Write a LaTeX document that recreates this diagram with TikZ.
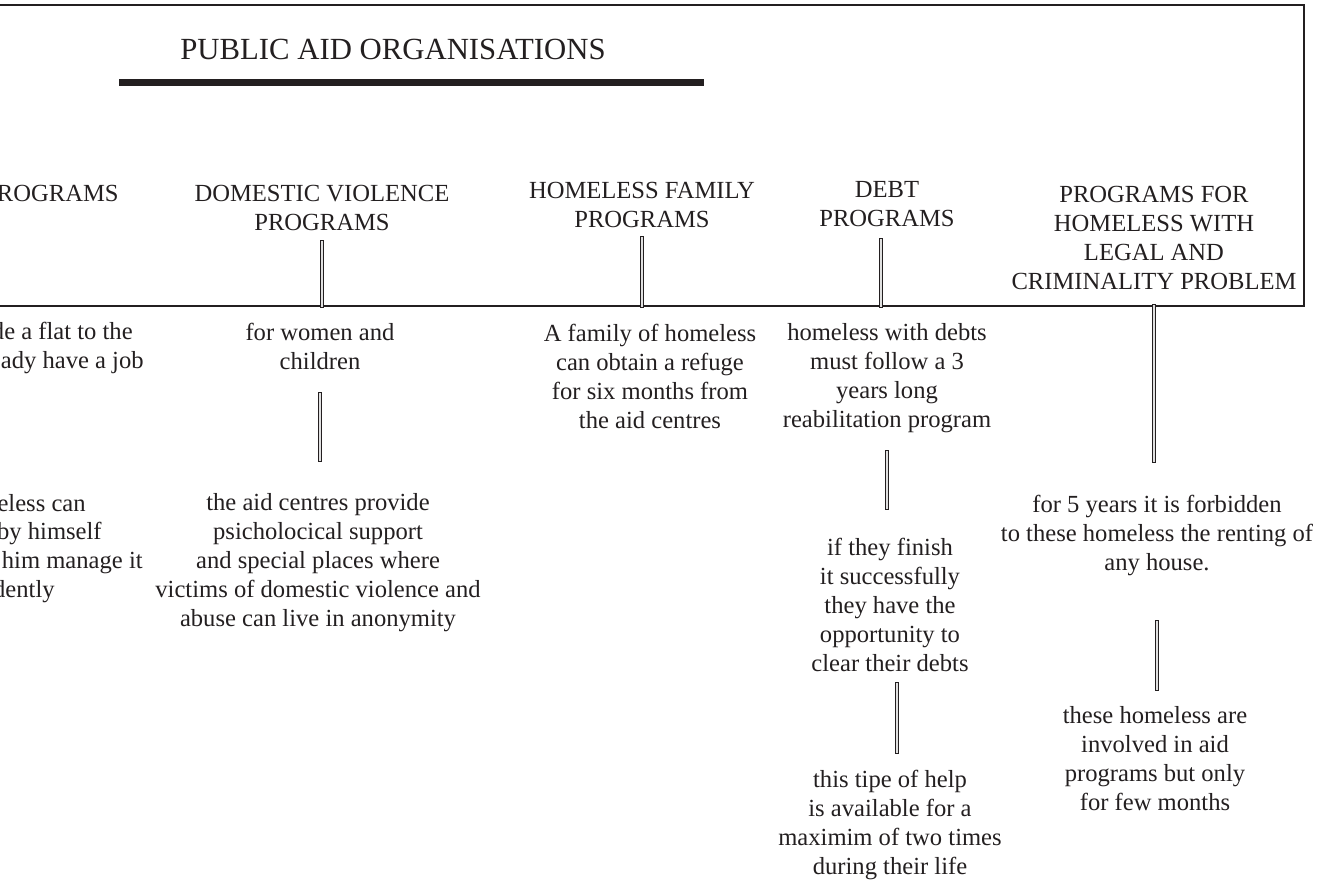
\documentclass[tikz,border=0pt]{standalone}
\usepackage{fontspec}
\setmainfont{Liberation Serif}
\usepackage{tikz}
\usetikzlibrary{positioning,calc}

\definecolor{ink}{RGB}{35,31,32}

\begin{document}
\begin{tikzpicture}[x=0.02cm, y=-0.02cm,
    every node/.style={font=\fontsize{14}{16.5}\selectfont, text=ink, align=center, inner sep=0pt},
    title/.style={font=\fontsize{17.5}{20}\selectfont},
    cut/.style={anchor=base east},
    bar/.style={draw=ink, line width=0.55pt, double=black!12, double distance=1.2pt, line cap=rect}]
  \useasboundingbox (0,0) rectangle (1318,881);
  % Frame and title
  \draw[ink, line width=0.85pt] (-20,5) rectangle (1304,306);
  \coordinate (base) at (0,306);
  \node[title, anchor=base] (title) at (393,60) {PUBLIC AID ORGANISATIONS};
  \draw[ink, line width=4pt] (119,82.5) -- (704,82.5);
  % Program headings
  \node[cut] (lefthead) at (119,202) {ROGRAMS};
  \node[anchor=north] (dvhead) at (322,185) {DOMESTIC VIOLENCE\\PROGRAMS};
  \node[anchor=north] (hfhead) at (642,182) {HOMELESS FAMILY\\PROGRAMS};
  \node[anchor=north] (debthead) at (887,181) {DEBT\\PROGRAMS};
  \node[anchor=north] (crimhead) at (1154,186) {PROGRAMS FOR\\HOMELESS WITH\\LEGAL AND\\CRIMINALITY PROBLEM};
  % Left column (cut off)
  \node[cut] (leftone) at (133,340) {de a flat to the};
  \node[cut] (lefttwo) at (144,369) {eady have a job};
  \node[cut] (leftthree) at (86,511) {eless can};
  \node[cut] (leftfour) at (102,540) {by himself};
  \node[cut] (leftfive) at (143,568) {him manage it};
  \node[cut] (leftsix) at (55,597) {dently};
  % Domestic violence
  \node[anchor=north] (dvwomen) at (320,323) {for women and\\children};
  \node[anchor=north] (dvcentres) at (318,493) {the aid centres provide\\psicholocical support\\and special places where\\victims of domestic violence and\\abuse can live in anonymity};
  % Homeless family
  \node[anchor=north] (hfrefuge) at (650,324) {A family of homeless\\can obtain a refuge\\for six months from\\the aid centres};
  % Debt
  \node[anchor=north] (debtone) at (887,323) {homeless with debts\\must follow a 3\\years long\\reabilitation program};
  \node[anchor=north] (debttwo) at (890,538) {if they finish\\it successfully\\they have the\\opportunity to\\clear their debts};
  \node[anchor=north] (debtthree) at (890,770) {this tipe of help\\is available for a\\maximim of two times\\during their life};
  % Legal and criminality
  \node[anchor=north] (crimone) at (1157,495) {for 5 years it is forbidden\\to these homeless the renting of\\any house.};
  \node[anchor=north] (crimtwo) at (1155,706) {these homeless are\\involved in aid\\programs but only\\for few months};
  % Connectors
  \draw[bar] ([yshift=-6pt]dvhead.south) -- (dvhead.south |- base);
  \draw[bar, shorten <=13.7pt, shorten >=18.8pt] (dvwomen.south) -- (dvwomen.south |- dvcentres.north);
  \draw[bar] ([yshift=-5.7pt]hfhead.south) -- (hfhead.south |- base);
  \draw[bar] ([xshift=-3.4pt, yshift=-7.4pt]debthead.south) -- ([xshift=-3.4pt]debthead.south |- base);
  \draw[bar, shorten <=10.8pt, shorten >=17pt] (debtone.south) -- (debtone.south |- debttwo.north);
  \draw[bar, shorten <=6.8pt, shorten >=10.2pt] ([xshift=4pt]debttwo.south) -- ([xshift=4pt]debttwo.south |- debtthree.north);
  \draw[bar, shorten >=19.4pt] (crimhead.south |- base) -- (crimhead.south |- crimone.north);
  \draw[bar, shorten <=26pt, shorten >=9.7pt] (crimone.south) -- (crimone.south |- crimtwo.north);
\end{tikzpicture}
\end{document}
